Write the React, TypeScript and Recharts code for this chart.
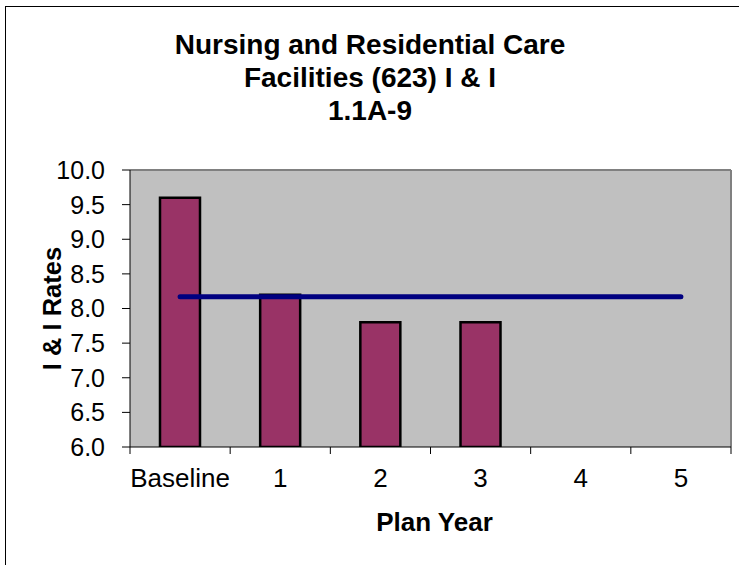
import React from 'react';
import {
  ComposedChart,
  Bar,
  Line,
  XAxis,
  YAxis,
  CartesianGrid,
  ReferenceLine,
} from 'recharts';

const planYears = ['Baseline', '1', '2', '3', '4', '5'];
const iiRates: (number | null)[] = [9.6, 8.2, 7.8, 7.8, null, null];
const goalRates = [8.17, 8.17, 8.17, 8.17, 8.17, 8.17];
const yTicks = [6.0, 6.5, 7.0, 7.5, 8.0, 8.5, 9.0, 9.5, 10.0];
const titleLines = ['Nursing and Residential Care', 'Facilities (623) I & I', '1.1A-9'];

const data = planYears.map((year, i) => ({
  year,
  rate: iiRates[i],
  goal: goalRates[i],
}));

const FONT = '"Liberation Sans", Arial, Helvetica, sans-serif';
const TICK_MARGIN = 31;

const XTick = (props: any) => {
  const { x, y, payload, index, visibleTicksCount, width } = props;
  const half =
    payload && typeof payload.offset === 'number' && payload.offset > 0
      ? payload.offset
      : width / (2 * visibleTicksCount);
  const axisY = y - TICK_MARGIN;
  return (
    <g>
      <line x1={x - half} x2={x - half} y1={axisY} y2={axisY + 7} stroke="#000" strokeWidth={1} />
      {index === visibleTicksCount - 1 && (
        <line x1={x + half} x2={x + half} y1={axisY} y2={axisY + 7} stroke="#000" strokeWidth={1} />
      )}
      <text
        x={x}
        y={y}
        textAnchor="middle"
        dominantBaseline="central"
        fontFamily={FONT}
        fontSize={26}
        fill="#000"
      >
        {payload.value}
      </text>
    </g>
  );
};

const YLabel = (props: any) => {
  const { viewBox } = props;
  const cx = viewBox.x + 52;
  const cy = viewBox.y + viewBox.height / 2;
  return (
    <text
      x={cx}
      y={cy}
      transform={`rotate(-90, ${cx}, ${cy})`}
      textAnchor="middle"
      dominantBaseline="central"
      fontFamily={FONT}
      fontSize={25.5}
      fontWeight="bold"
      fill="#000"
    >
      I &amp; I Rates
    </text>
  );
};

const XLabel = (props: any) => {
  const { viewBox } = props;
  const cx = viewBox.x + viewBox.width / 2 + 4;
  const cy = viewBox.y + 75;
  return (
    <text
      x={cx}
      y={cy}
      textAnchor="middle"
      dominantBaseline="central"
      fontFamily={FONT}
      fontSize={26}
      fontWeight="bold"
      fill="#000"
    >
      Plan Year
    </text>
  );
};

export default function App() {
  return (
    <div
      style={{
        position: 'absolute',
        left: 0,
        top: 0,
        width: 739,
        height: 565,
        overflow: 'hidden',
        background: '#fff',
      }}
    >
      <div
        style={{
          position: 'absolute',
          left: 5,
          top: 6,
          width: 900,
          height: 900,
          border: '1px solid #000',
        }}
      />
      <div style={{ position: 'absolute', left: 0, top: 0 }}>
        <ComposedChart
          width={739}
          height={565}
          data={data}
          margin={{ top: 170, right: 8, bottom: 0, left: 0 }}
          barCategoryGap={30}
        >
          <CartesianGrid fill="#C0C0C0" horizontal={false} vertical={false} />
          <XAxis
            dataKey="year"
            type="category"
            height={118}
            tickLine={false}
            tickSize={0}
            tickMargin={TICK_MARGIN}
            axisLine={{ stroke: '#000', strokeWidth: 1 }}
            tick={<XTick />}
            interval={0}
            label={<XLabel />}
          />
          <YAxis
            type="number"
            domain={[6, 10]}
            ticks={yTicks}
            width={130}
            interval={0}
            tickSize={8}
            tickMargin={17}
            tickFormatter={(v: number) => v.toFixed(1)}
            tick={{ fontFamily: FONT, fontSize: 25, fill: '#000' }}
            tickLine={{ stroke: '#000' }}
            axisLine={{ stroke: '#000', strokeWidth: 1 }}
            label={<YLabel />}
            allowDataOverflow
          />
          <ReferenceLine y={10} stroke="#808080" strokeWidth={2} />
          <ReferenceLine x="5" position="end" stroke="#808080" strokeWidth={2} />
          <Bar
            dataKey="rate"
            fill="#993366"
            stroke="#000"
            strokeWidth={2.5}
            barSize={40}
            isAnimationActive={false}
          />
          <Line
            dataKey="goal"
            stroke="#000080"
            strokeWidth={5}
            strokeLinecap="round"
            dot={false}
            activeDot={false}
            isAnimationActive={false}
          />
        </ComposedChart>
      </div>
      <div
        style={{
          position: 'absolute',
          left: 0,
          top: 28,
          width: 740,
          textAlign: 'center',
          fontFamily: FONT,
          fontWeight: 'bold',
          fontSize: 28,
          lineHeight: '33px',
          color: '#000',
        }}
      >
        {titleLines.map((t) => (
          <div key={t}>{t}</div>
        ))}
      </div>
    </div>
  );
}
